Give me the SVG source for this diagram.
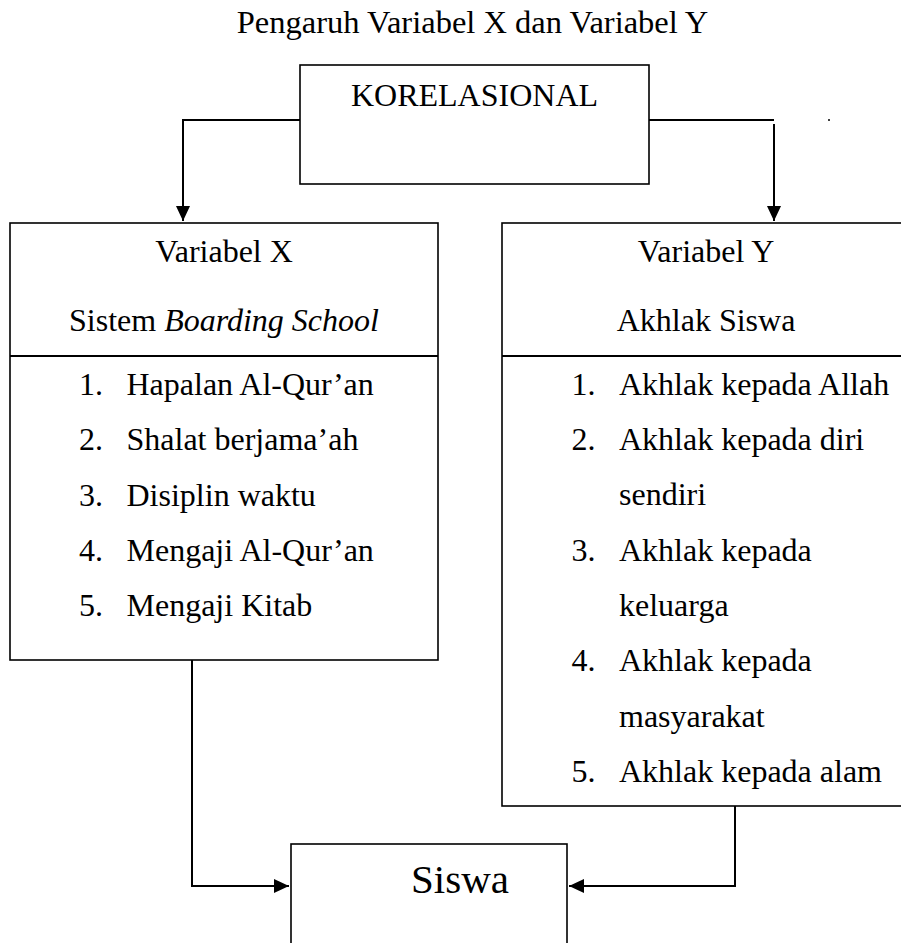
<svg xmlns="http://www.w3.org/2000/svg" width="901" height="943" viewBox="0 0 901 943">
<defs>
<style>
text{font-family:"Liberation Serif","Times New Roman",serif;font-size:32px;fill:#000}
.c{text-anchor:middle}
.box{fill:#fff;stroke:#000;stroke-width:1.6}
.div{stroke:#000;stroke-width:2}
.con{fill:none;stroke:#000;stroke-width:2}
</style>
<marker id="ah" markerUnits="userSpaceOnUse" markerWidth="16" markerHeight="16" viewBox="0 0 16 16" refX="15" refY="8" orient="auto">
<path d="M0,1 L15,8 L0,15 Z" fill="#000"/>
</marker>
</defs>
<rect width="901" height="943" fill="#fff"/>
<text class="c" x="472.5" y="33" style="font-size:32.5px">Pengaruh Variabel X dan Variabel Y</text>

<g id="connectors">
<path class="con" d="M300,120 H183 V221" marker-end="url(#ah)"/>
<path class="con" d="M649,120 H774"/>
<path class="con" d="M774,124 V221" marker-end="url(#ah)"/>
<path class="con" d="M192,660 V886 H289" marker-end="url(#ah)"/>
<path class="con" d="M735,806 V886 H569" marker-end="url(#ah)"/>
</g>
<circle cx="829" cy="120" r="1" fill="#000"/>

<g id="korelasional">
<rect class="box" x="300" y="65" width="349" height="119"/>
<text class="c" x="474.5" y="106">KORELASIONAL</text>
</g>

<g id="variabel-x">
<rect class="box" x="10" y="223" width="428" height="437"/>
<line class="div" x1="10" y1="356" x2="438" y2="356"/>
<text class="c" x="224" y="262">Variabel X</text>
<text class="c" x="224" y="331">Sistem <tspan font-style="italic">Boarding School</tspan></text>
<text x="79" y="395">1.</text><text x="126.5" y="395">Hapalan Al-Qur’an</text>
<text x="79" y="450">2.</text><text x="126.5" y="450">Shalat berjama’ah</text>
<text x="79" y="505.5">3.</text><text x="126.5" y="505.5">Disiplin waktu</text>
<text x="79" y="561">4.</text><text x="126.5" y="561">Mengaji Al-Qur’an</text>
<text x="79" y="616">5.</text><text x="126.5" y="616">Mengaji Kitab</text>
</g>

<g id="variabel-y">
<rect class="box" x="502" y="223" width="410" height="583"/>
<line class="div" x1="502" y1="356" x2="912" y2="356"/>
<text class="c" x="706" y="262">Variabel Y</text>
<text class="c" x="706" y="331">Akhlak Siswa</text>
<text x="571.5" y="395">1.</text><text x="619" y="395">Akhlak kepada Allah</text>
<text x="571.5" y="450">2.</text><text x="619" y="450">Akhlak kepada diri</text>
<text x="619" y="505">sendiri</text>
<text x="571.5" y="560.5">3.</text><text x="619" y="560.5">Akhlak kepada</text>
<text x="619" y="615.5">keluarga</text>
<text x="571.5" y="671">4.</text><text x="619" y="671">Akhlak kepada</text>
<text x="619" y="726.5">masyarakat</text>
<text x="571.5" y="781.5">5.</text><text x="619" y="781.5">Akhlak kepada alam</text>
</g>

<g id="siswa">
<rect class="box" x="291" y="844" width="276" height="120"/>
<text class="c" x="460" y="893" style="font-size:41px">Siswa</text>
</g>
</svg>
